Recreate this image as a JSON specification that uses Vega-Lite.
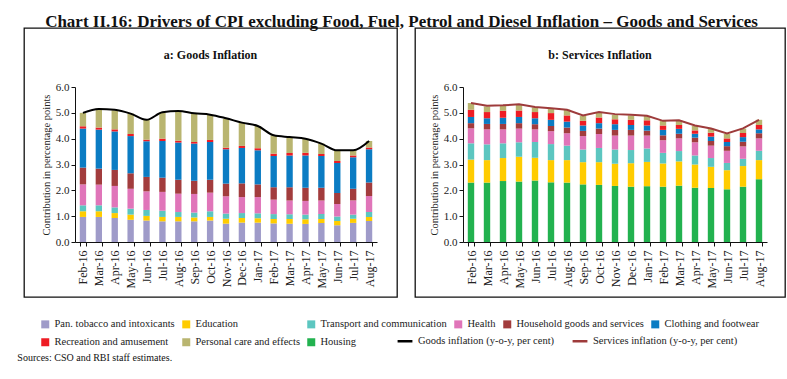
{
  "$schema": "https://vega.github.io/schema/vega-lite/v6.json",
  "background": "white",
  "padding": {"left": 17, "top": 13, "right": 5, "bottom": 4},
  "datasets": {
    "cats": [
      {"key": "housing", "series": "Housing", "rank": 0},
      {"key": "pan", "series": "Pan. tobacco and intoxicants", "rank": 1},
      {"key": "edu", "series": "Education", "rank": 2},
      {"key": "trans", "series": "Transport and communication", "rank": 3},
      {"key": "health", "series": "Health", "rank": 4},
      {"key": "hh", "series": "Household goods and services", "rank": 5},
      {"key": "cloth", "series": "Clothing and footwear", "rank": 6},
      {"key": "rec", "series": "Recreation and amusement", "rank": 7},
      {"key": "pers", "series": "Personal care and effects", "rank": 8}
    ],
    "goods": [
      {"month": "Feb-16", "pan": 0.97, "edu": 0.22, "trans": 0.23, "health": 0.81, "hh": 0.65, "cloth": 1.51, "rec": 0.09, "pers": 0.52, "line": 5.00},
      {"month": "Mar-16", "pan": 0.97, "edu": 0.22, "trans": 0.23, "health": 0.80, "hh": 0.62, "cloth": 1.51, "rec": 0.08, "pers": 0.73, "line": 5.15},
      {"month": "Apr-16", "pan": 0.93, "edu": 0.19, "trans": 0.22, "health": 0.83, "hh": 0.62, "cloth": 1.49, "rec": 0.08, "pers": 0.74, "line": 5.12},
      {"month": "May-16", "pan": 0.86, "edu": 0.20, "trans": 0.23, "health": 0.77, "hh": 0.60, "cloth": 1.44, "rec": 0.08, "pers": 0.79, "line": 4.97},
      {"month": "Jun-16", "pan": 0.83, "edu": 0.18, "trans": 0.23, "health": 0.72, "hh": 0.56, "cloth": 1.38, "rec": 0.06, "pers": 0.79, "line": 4.73},
      {"month": "Jul-16", "pan": 0.80, "edu": 0.17, "trans": 0.24, "health": 0.73, "hh": 0.55, "cloth": 1.42, "rec": 0.09, "pers": 1.01, "line": 5.02},
      {"month": "Aug-16", "pan": 0.80, "edu": 0.17, "trans": 0.19, "health": 0.71, "hh": 0.54, "cloth": 1.44, "rec": 0.07, "pers": 1.15, "line": 5.07},
      {"month": "Sep-16", "pan": 0.80, "edu": 0.15, "trans": 0.19, "health": 0.72, "hh": 0.51, "cloth": 1.44, "rec": 0.06, "pers": 1.11, "line": 4.98},
      {"month": "Oct-16", "pan": 0.83, "edu": 0.14, "trans": 0.22, "health": 0.72, "hh": 0.50, "cloth": 1.46, "rec": 0.08, "pers": 0.98, "line": 4.93},
      {"month": "Nov-16", "pan": 0.71, "edu": 0.19, "trans": 0.20, "health": 0.67, "hh": 0.49, "cloth": 1.33, "rec": 0.06, "pers": 1.12, "line": 4.79},
      {"month": "Dec-16", "pan": 0.75, "edu": 0.18, "trans": 0.19, "health": 0.62, "hh": 0.53, "cloth": 1.37, "rec": 0.08, "pers": 0.90, "line": 4.62},
      {"month": "Jan-17", "pan": 0.75, "edu": 0.17, "trans": 0.19, "health": 0.63, "hh": 0.49, "cloth": 1.32, "rec": 0.08, "pers": 0.86, "line": 4.49},
      {"month": "Feb-17", "pan": 0.72, "edu": 0.17, "trans": 0.19, "health": 0.56, "hh": 0.48, "cloth": 1.21, "rec": 0.09, "pers": 0.71, "line": 4.13},
      {"month": "Mar-17", "pan": 0.71, "edu": 0.18, "trans": 0.18, "health": 0.54, "hh": 0.51, "cloth": 1.23, "rec": 0.10, "pers": 0.59, "line": 4.06},
      {"month": "Apr-17", "pan": 0.70, "edu": 0.18, "trans": 0.18, "health": 0.53, "hh": 0.51, "cloth": 1.25, "rec": 0.10, "pers": 0.55, "line": 4.00},
      {"month": "May-17", "pan": 0.74, "edu": 0.15, "trans": 0.19, "health": 0.53, "hh": 0.49, "cloth": 1.23, "rec": 0.08, "pers": 0.40, "line": 3.81},
      {"month": "Jun-17", "pan": 0.65, "edu": 0.16, "trans": 0.18, "health": 0.48, "hh": 0.43, "cloth": 1.16, "rec": 0.08, "pers": 0.41, "line": 3.55},
      {"month": "Jul-17", "pan": 0.74, "edu": 0.16, "trans": 0.16, "health": 0.55, "hh": 0.45, "cloth": 1.22, "rec": 0.07, "pers": 0.20, "line": 3.55},
      {"month": "Aug-17", "pan": 0.81, "edu": 0.16, "trans": 0.19, "health": 0.62, "hh": 0.52, "cloth": 1.29, "rec": 0.07, "pers": 0.25, "line": 3.91}
    ],
    "services": [
      {"month": "Feb-16", "housing": 2.30, "edu": 0.89, "trans": 0.63, "health": 0.58, "hh": 0.20, "cloth": 0.24, "rec": 0.28, "pers": 0.26, "line": 5.38},
      {"month": "Mar-16", "housing": 2.30, "edu": 0.87, "trans": 0.61, "health": 0.58, "hh": 0.21, "cloth": 0.22, "rec": 0.24, "pers": 0.22, "line": 5.27},
      {"month": "Apr-16", "housing": 2.36, "edu": 0.89, "trans": 0.57, "health": 0.54, "hh": 0.21, "cloth": 0.24, "rec": 0.27, "pers": 0.21, "line": 5.29},
      {"month": "May-16", "housing": 2.34, "edu": 0.96, "trans": 0.56, "health": 0.53, "hh": 0.21, "cloth": 0.24, "rec": 0.25, "pers": 0.22, "line": 5.33},
      {"month": "Jun-16", "housing": 2.38, "edu": 0.88, "trans": 0.61, "health": 0.49, "hh": 0.20, "cloth": 0.23, "rec": 0.24, "pers": 0.18, "line": 5.23},
      {"month": "Jul-16", "housing": 2.31, "edu": 0.86, "trans": 0.62, "health": 0.50, "hh": 0.20, "cloth": 0.24, "rec": 0.26, "pers": 0.19, "line": 5.18},
      {"month": "Aug-16", "housing": 2.30, "edu": 0.87, "trans": 0.56, "health": 0.48, "hh": 0.22, "cloth": 0.23, "rec": 0.24, "pers": 0.22, "line": 5.12},
      {"month": "Sep-16", "housing": 2.23, "edu": 0.86, "trans": 0.49, "health": 0.52, "hh": 0.20, "cloth": 0.21, "rec": 0.18, "pers": 0.19, "line": 4.90},
      {"month": "Oct-16", "housing": 2.21, "edu": 0.88, "trans": 0.55, "health": 0.54, "hh": 0.21, "cloth": 0.21, "rec": 0.22, "pers": 0.19, "line": 5.03},
      {"month": "Nov-16", "housing": 2.17, "edu": 0.86, "trans": 0.55, "health": 0.54, "hh": 0.22, "cloth": 0.22, "rec": 0.19, "pers": 0.17, "line": 4.95},
      {"month": "Dec-16", "housing": 2.14, "edu": 0.91, "trans": 0.51, "health": 0.56, "hh": 0.22, "cloth": 0.19, "rec": 0.20, "pers": 0.17, "line": 4.93},
      {"month": "Jan-17", "housing": 2.16, "edu": 0.94, "trans": 0.52, "health": 0.50, "hh": 0.19, "cloth": 0.20, "rec": 0.20, "pers": 0.17, "line": 4.89},
      {"month": "Feb-17", "housing": 2.14, "edu": 0.90, "trans": 0.41, "health": 0.49, "hh": 0.19, "cloth": 0.21, "rec": 0.17, "pers": 0.18, "line": 4.69},
      {"month": "Mar-17", "housing": 2.18, "edu": 0.94, "trans": 0.40, "health": 0.49, "hh": 0.18, "cloth": 0.19, "rec": 0.15, "pers": 0.17, "line": 4.71},
      {"month": "Apr-17", "housing": 2.10, "edu": 0.90, "trans": 0.35, "health": 0.51, "hh": 0.18, "cloth": 0.15, "rec": 0.13, "pers": 0.17, "line": 4.51},
      {"month": "May-17", "housing": 2.09, "edu": 0.82, "trans": 0.34, "health": 0.48, "hh": 0.18, "cloth": 0.17, "rec": 0.15, "pers": 0.16, "line": 4.39},
      {"month": "Jun-17", "housing": 2.04, "edu": 0.74, "trans": 0.28, "health": 0.47, "hh": 0.18, "cloth": 0.16, "rec": 0.14, "pers": 0.17, "line": 4.20},
      {"month": "Jul-17", "housing": 2.14, "edu": 0.80, "trans": 0.28, "health": 0.48, "hh": 0.18, "cloth": 0.18, "rec": 0.16, "pers": 0.17, "line": 4.40},
      {"month": "Aug-17", "housing": 2.43, "edu": 0.74, "trans": 0.36, "health": 0.48, "hh": 0.20, "cloth": 0.15, "rec": 0.17, "pers": 0.20, "line": 4.73}
    ]
  },
  "title": {"text": "Sources: CSO and RBI staff estimates.", "orient": "bottom", "anchor": "start", "font": "Liberation Serif", "fontSize": 10, "fontWeight": "normal", "color": "#111", "offset": 5},
  "vconcat": [
    {
      "title": {"text": "Chart II.16: Drivers of CPI excluding Food, Fuel, Petrol and Diesel Inflation – Goods and Services", "font": "Liberation Serif", "fontSize": 17, "fontWeight": "bold", "color": "#111", "anchor": "middle", "offset": -4},
      "spacing": 10,
      "hconcat": [
        {
          "width": 373,
          "height": 269,
          "view": {"stroke": "#111", "strokeWidth": 1.3},
          "title": {"text": "a: Goods Inflation", "font": "Liberation Serif", "fontSize": 12, "fontWeight": "bold", "color": "#111", "anchor": "middle", "frame": "group", "offset": -34},
          "data": {"name": "goods"},
          "encoding": {
            "x": {
              "field": "month", "type": "nominal",
              "scale": {"domain": ["Feb-16","Mar-16","Apr-16","May-16","Jun-16","Jul-16","Aug-16","Sep-16","Oct-16","Nov-16","Dec-16","Jan-17","Feb-17","Mar-17","Apr-17","May-17","Jun-17","Jul-17","Aug-17"], "range": [51, 353], "paddingInner": 0.6, "paddingOuter": 0.3},
              "axis": {"title": null, "labelAngle": -90, "offset": -55, "tickBand": "extent", "labelPadding": 4, "labelFontSize": 12}
            }
          },
          "layer": [
            {
              "transform": [
                {"fold": ["pan", "edu", "trans", "health", "hh", "cloth", "rec", "pers"], "as": ["key", "value"]},
                {"lookup": "key", "from": {"data": {"name": "cats"}, "key": "key", "fields": ["series", "rank"]}}
              ],
              "mark": {"type": "bar"},
              "encoding": {
                "y": {"field": "value", "type": "quantitative", "stack": "zero", "title": "Contribution in percentage points",
                  "scale": {"domain": [0, 6], "nice": false, "range": [214, 59]},
                  "axis": {"values": [0, 1, 2, 3, 4, 5, 6], "format": ".1f", "offset": -51, "title": "Contribution in percentage points"}},
                "color": {
                  "field": "series", "type": "nominal",
                  "scale": {
                    "domain": ["Pan. tobacco and intoxicants", "Education", "Transport and communication", "Health", "Household goods and services", "Clothing and footwear", "Recreation and amusement", "Personal care and effects", "Housing"],
                    "range": ["#9f9bc9", "#ffcc00", "#5cc6c0", "#e075b9", "#a23c3d", "#0b7cc3", "#ee1c24", "#b9b570", "#22b24f"]
                  },
                  "legend": {
                    "title": null, "orient": "none", "legendX": 16, "legendY": 291, "direction": "horizontal", "columns": 6,
                    "columnPadding": 6, "rowPadding": 7, "symbolSize": 64, "symbolType": "square",
                    "labelFont": "Liberation Serif", "labelFontSize": 10.5, "labelColor": "#222", "labelLimit": 300
                  }
                },
                "order": {"field": "rank", "type": "quantitative", "sort": "ascending"}
              }
            },
            {
              "mark": {"type": "line", "interpolate": "monotone", "strokeWidth": 2},
              "encoding": {
                "y": {"field": "line", "type": "quantitative", "title": "Contribution in percentage points"},
                "stroke": {
                  "datum": "Goods inflation (y-o-y, per cent)",
                  "scale": {"domain": ["Goods inflation (y-o-y, per cent)", "Services inflation (y-o-y, per cent)"], "range": ["#000000", "#9e3b3b"]},
                  "legend": {
                    "title": null, "orient": "none", "legendX": 372, "legendY": 304, "direction": "horizontal",
                    "symbolType": "stroke", "symbolSize": 220, "symbolStrokeWidth": 2.5, "columnPadding": 12,
                    "labelFont": "Liberation Serif", "labelFontSize": 10.5, "labelColor": "#222", "labelLimit": 300
                  }
                }
              }
            }
          ]
        },
        {
          "width": 370,
          "height": 269,
          "view": {"stroke": "#111", "strokeWidth": 1.3},
          "title": {"text": "b: Services Inflation", "font": "Liberation Serif", "fontSize": 12, "fontWeight": "bold", "color": "#111", "anchor": "middle", "frame": "group", "offset": -34},
          "data": {"name": "services"},
          "encoding": {
            "x": {
              "field": "month", "type": "nominal",
              "scale": {"domain": ["Feb-16","Mar-16","Apr-16","May-16","Jun-16","Jul-16","Aug-16","Sep-16","Oct-16","Nov-16","Dec-16","Jan-17","Feb-17","Mar-17","Apr-17","May-17","Jun-17","Jul-17","Aug-17"], "range": [48, 352], "paddingInner": 0.6, "paddingOuter": 0.3},
              "axis": {"title": null, "labelAngle": -90, "offset": -55, "tickBand": "extent", "labelPadding": 4, "labelFontSize": 12}
            }
          },
          "layer": [
            {
              "transform": [
                {"fold": ["housing", "edu", "trans", "health", "hh", "cloth", "rec", "pers"], "as": ["key", "value"]},
                {"lookup": "key", "from": {"data": {"name": "cats"}, "key": "key", "fields": ["series", "rank"]}}
              ],
              "mark": {"type": "bar"},
              "encoding": {
                "y": {"field": "value", "type": "quantitative", "stack": "zero", "title": "Contribution in percentage points",
                  "scale": {"domain": [0, 6], "nice": false, "range": [214, 59]},
                  "axis": {"values": [0, 1, 2, 3, 4, 5, 6], "format": ".1f", "offset": -48, "title": "Contribution in percentage points"}},
                "color": {
                  "field": "series", "type": "nominal",
                  "scale": {
                    "domain": ["Pan. tobacco and intoxicants", "Education", "Transport and communication", "Health", "Household goods and services", "Clothing and footwear", "Recreation and amusement", "Personal care and effects", "Housing"],
                    "range": ["#9f9bc9", "#ffcc00", "#5cc6c0", "#e075b9", "#a23c3d", "#0b7cc3", "#ee1c24", "#b9b570", "#22b24f"]
                  }
                },
                "order": {"field": "rank", "type": "quantitative", "sort": "ascending"}
              }
            },
            {
              "mark": {"type": "line", "strokeWidth": 2},
              "encoding": {
                "y": {"field": "line", "type": "quantitative", "title": "Contribution in percentage points"},
                "stroke": {"datum": "Services inflation (y-o-y, per cent)"}
              }
            }
          ]
        }
      ]
    }
  ],
  "config": {
    "font": "Liberation Serif",
    "view": {"stroke": "#111", "strokeWidth": 1.3},
    "axis": {
      "grid": false,
      "labelFont": "Liberation Serif", "labelFontSize": 11, "labelColor": "#222",
      "titleFont": "Liberation Serif", "titleFontSize": 10.5, "titleFontWeight": "normal", "titleColor": "#222",
      "domainColor": "#111", "tickColor": "#111", "tickSize": 4
    }
  }
}
